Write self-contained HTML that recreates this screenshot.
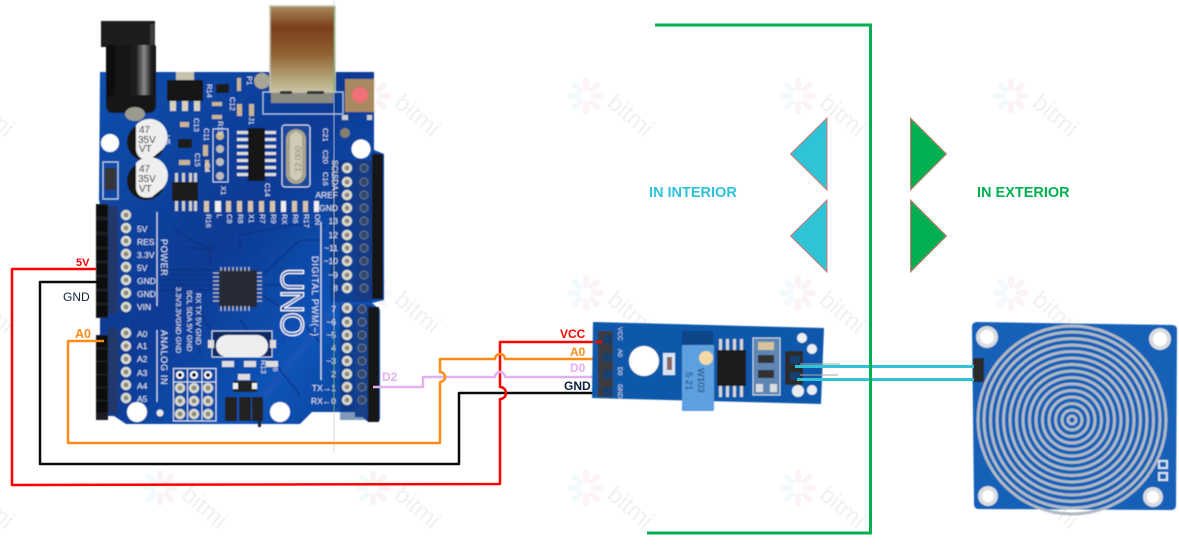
<!DOCTYPE html>
<html><head><meta charset="utf-8"><style>
html,body{margin:0;padding:0;background:#fff;width:1179px;height:547px;overflow:hidden}
svg{display:block}
text{font-family:"Liberation Sans",sans-serif}
</style></head><body>
<svg width="1179" height="547" viewBox="0 0 1179 547" xmlns="http://www.w3.org/2000/svg">
<defs>
<filter id="b" x="-5%" y="-5%" width="110%" height="110%"><feGaussianBlur stdDeviation="0.45"/></filter>
<linearGradient id="bd" x1="0" y1="0" x2="1" y2="1"><stop offset="0" stop-color="#1250ae"/><stop offset=".45" stop-color="#0b3a94"/><stop offset=".75" stop-color="#1254b6"/><stop offset="1" stop-color="#0a4096"/></linearGradient>
<linearGradient id="usb" x1="0" y1="0" x2="0" y2="1"><stop offset="0" stop-color="#a98a5f"/><stop offset=".25" stop-color="#7c3e1c"/><stop offset=".55" stop-color="#8f6132"/><stop offset=".85" stop-color="#b5a67a"/><stop offset="1" stop-color="#c9c3a5"/></linearGradient>
<linearGradient id="jk" x1="0" y1="0" x2="1" y2="0"><stop offset="0" stop-color="#0d0d0d"/><stop offset=".6" stop-color="#1c1c1c"/><stop offset=".76" stop-color="#8a8a8a"/><stop offset=".9" stop-color="#222"/><stop offset="1" stop-color="#111"/></linearGradient>
<g id="wm"><g fill="none" stroke-width="6" stroke-linecap="round"><path d="M0-15V-8M11-11L6-6M15 0H8" stroke="#fcf3f5"/><path d="M11 11L6 6M0 15V8" stroke="#fcf3f5"/><path d="M-11 11L-6 6M-15 0H-8M-11-11L-6-6" stroke="#f3fafd"/></g>
<text transform="translate(20,9) rotate(40)" font-size="24" fill="#f1f1f1">bitmi</text></g>
<g id="p"><circle r="5.2" fill="#d9d9cf"/><circle r="2.4" fill="#8b8b78"/></g>
<g id="hc"><rect x="-5.500" y="-5.500" width="11" height="11" fill="#0b0b0b"/></g>
</defs>

<!-- watermarks -->
<use href="#wm" x="-53" y="96"/><use href="#wm" x="160" y="96"/><use href="#wm" x="373" y="96"/><use href="#wm" x="586" y="96"/><use href="#wm" x="798" y="96"/><use href="#wm" x="1011" y="96"/>
<use href="#wm" x="-53" y="293"/><use href="#wm" x="160" y="293"/><use href="#wm" x="373" y="293"/><use href="#wm" x="586" y="293"/><use href="#wm" x="798" y="293"/><use href="#wm" x="1011" y="293"/>
<use href="#wm" x="-53" y="488"/><use href="#wm" x="160" y="488"/><use href="#wm" x="373" y="488"/><use href="#wm" x="586" y="488"/><use href="#wm" x="798" y="488"/><use href="#wm" x="1011" y="488"/>

<!-- Arduino -->
<g filter="url(#b)">
<path d="M100 72H374V150L384 154V300L372 303L380 310V420L368 422L358 412H312L300 424H126L114 416L100 416V205L99 200Z" fill="url(#bd)"/>
<g fill="none" stroke="#082f7e" stroke-width="1.1"><path d="M175 230L210 250V265M180 248H215M160 270H215M160 275H215M160 280H215M160 285H215M160 290H215M262 275L300 240H322M262 285H285M262 295L300 320L322 345M240 250V235L290 225H325M240 320L300 395M200 310L210 330M195 305L200 355M185 215L175 200"/></g>
<path d="M330 160H372V302H330ZM340 305H372V420H340Z" fill="#0a2f78" opacity=".5"/>
<path d="M100 322Q112 313 125 318L108 330L100 332Z" fill="#0b3a92"/>
<!-- USB -->
<rect x="263" y="92" width="80" height="22" fill="none" stroke="#a8c4ea" stroke-width="1.2"/>
<rect x="271" y="91" width="62" height="12" fill="#8c8c82"/>
<rect x="270" y="6" width="65" height="86" fill="url(#usb)" stroke="#c5c2ad" stroke-width="1.5"/>
<rect x="280" y="91" width="12" height="3" fill="#333"/><rect x="307" y="91" width="17" height="3" fill="#333"/>
<circle cx="262" cy="81" r="8" fill="#a9a594"/>
<!-- Jack -->
<rect x="101" y="21" width="54" height="26" fill="#1b1b1b"/><rect x="150" y="24" width="5" height="24" fill="#3a3a3a"/>
<rect x="106" y="45" width="50" height="62" rx="2" fill="url(#jk)"/>
<rect x="106" y="95" width="50" height="18" rx="7" fill="#181818"/>
<ellipse cx="135" cy="114" rx="10" ry="7" fill="#9a9a8f"/>
<!-- regulator -->
<rect x="176" y="72" width="18" height="10" fill="#c8c0ae"/><rect x="167" y="80" width="36" height="21" fill="#161616"/>
<rect x="170" y="101" width="6" height="10" fill="#d6d0bf"/><rect x="182" y="101" width="6" height="10" fill="#d6d0bf"/><rect x="194" y="101" width="6" height="10" fill="#d6d0bf"/>
<!-- small SMDs -->
<rect x="216" y="84" width="13" height="9" fill="#1a1a1a"/><rect x="237" y="78" width="4" height="13" fill="#c9b596"/><rect x="237" y="104" width="5" height="12" fill="#c9b596"/><rect x="249" y="104" width="5" height="12" fill="#c9b596"/><rect x="212" y="102" width="10" height="4" fill="#c9b596"/><rect x="212" y="115" width="10" height="4" fill="#c9b596"/>
<rect x="178" y="139" width="14" height="9" fill="#1b1b1b"/><rect x="180" y="122" width="9" height="5" fill="#c9b596"/><rect x="179" y="160" width="11" height="5" fill="#c9b596"/><rect x="203" y="145" width="5" height="11" fill="#c9b596"/><rect x="205" y="160" width="4" height="11" fill="#c9b596"/>
<!-- caps -->
<circle cx="146" cy="142" r="19" fill="#181818"/><path d="M136 125A18 18 0 0 1 163 149L152 158Q138 162 136 150Z" fill="#eee"/>
<circle cx="146" cy="181" r="19" fill="#181818"/><path d="M136 163A18 18 0 0 1 163 188L152 197Q138 200 136 189Z" fill="#eee"/>
<g font-size="10" fill="#111"><text x="139" y="133">47</text><text x="138" y="143">35V</text><text x="139" y="152">VT</text><text x="139" y="172">47</text><text x="138" y="182">35V</text><text x="139" y="192">VT</text></g>
<rect x="103" y="162" width="15" height="37" fill="none" stroke="#b7cdea" stroke-width="1.2"/><rect x="105" y="168" width="11" height="22" fill="#353535"/>
<circle cx="110" cy="143" r="9" fill="#fff"/><circle cx="361" cy="149" r="9.5" fill="#fff"/><circle cx="345" cy="133" r="5" fill="#857f6c"/>
<circle cx="137" cy="412" r="10" fill="#fff"/><circle cx="280" cy="412" r="10" fill="#fff"/><circle cx="160" cy="413" r="3.5" fill="#e8e8e8"/>
<!-- reset -->
<rect x="345" y="79" width="29" height="33" fill="#a98a60"/><circle cx="360" cy="95" r="8" fill="#ef7076"/><rect x="342" y="115" width="6" height="5" fill="#ccc"/><rect x="367" y="115" width="5" height="5" fill="#ccc"/>
<!-- X1 header -->
<rect x="213" y="129" width="15" height="53" fill="none" stroke="#c1d4ee" stroke-width="1"/>
<circle cx="220" cy="136" r="4" fill="#c4b98c"/><circle cx="220" cy="149" r="4" fill="#bbb"/><circle cx="220" cy="162" r="4" fill="#bbb"/><circle cx="220" cy="176" r="4" fill="#bbb"/>
<!-- IC top -->
<rect x="248" y="128" width="17" height="53" fill="#141414"/>
<g fill="#ddd"><rect x="237" y="131" width="11" height="3"/><rect x="237" y="138" width="11" height="3"/><rect x="237" y="145" width="11" height="3"/><rect x="237" y="152" width="11" height="3"/><rect x="237" y="159" width="11" height="3"/><rect x="237" y="166" width="11" height="3"/><rect x="237" y="173" width="11" height="3"/><rect x="265" y="131" width="11" height="3"/><rect x="265" y="138" width="11" height="3"/><rect x="265" y="145" width="11" height="3"/><rect x="265" y="152" width="11" height="3"/><rect x="265" y="159" width="11" height="3"/><rect x="265" y="166" width="11" height="3"/><rect x="265" y="173" width="11" height="3"/></g>
<!-- crystal top -->
<rect x="282" y="125" width="28" height="62" rx="3" fill="#1d4a9c" stroke="#d3dff0" stroke-width="1"/>
<rect x="286" y="129" width="20" height="55" rx="10" fill="#a9a48e"/><rect x="290" y="132" width="12" height="48" rx="6" fill="#cfcbb7"/>
<text transform="translate(301,172) rotate(-90)" font-size="8.5" fill="#85826e">12.000</text>
<!-- small IC -->
<rect x="172" y="182" width="26" height="19" fill="#1b1b1b"/>
<g fill="#ccc"><rect x="175" y="173" width="3" height="9"/><rect x="182" y="173" width="3" height="9"/><rect x="189" y="173" width="3" height="9"/><rect x="194" y="173" width="3" height="9"/><rect x="175" y="201" width="3" height="10"/><rect x="182" y="201" width="3" height="10"/><rect x="189" y="201" width="3" height="10"/><rect x="194" y="201" width="3" height="10"/></g>
<!-- SMD row -->
<g fill="#d4c5aa"><rect x="204" y="201" width="5" height="11"/><rect x="215" y="201" width="6" height="11" fill="#eee"/><rect x="226" y="201" width="5" height="11"/><rect x="237" y="201" width="5" height="11"/><rect x="248" y="201" width="5" height="11"/><rect x="259" y="201" width="5" height="11"/><rect x="281" y="201" width="5" height="11" fill="#eee"/><rect x="292" y="201" width="5" height="11"/><rect x="303" y="201" width="5" height="11"/><rect x="314" y="201" width="5" height="11" fill="#eee"/><rect x="270" y="201" width="5" height="11"/></g>
<g font-size="7.5" fill="#dfe8f6">
<text transform="translate(206,214) rotate(90)">R16</text><text transform="translate(217,214) rotate(90)">L</text><text transform="translate(227,214) rotate(90)">C8</text><text transform="translate(238,214) rotate(90)">R8</text><text transform="translate(249,214) rotate(90)">X1</text><text transform="translate(260,214) rotate(90)">R7</text><text transform="translate(271,214) rotate(90)">R9</text><text transform="translate(282,214) rotate(90)">RX</text><text transform="translate(293,214) rotate(90)">R6</text><text transform="translate(304,214) rotate(90)">R17</text><text transform="translate(315,214) rotate(90)">ON</text>
<text transform="translate(194,118) rotate(90)">C13</text><text transform="translate(204,128) rotate(90)">C11</text><text transform="translate(195,153) rotate(90)">C15</text><text transform="translate(205,163) rotate(90)">C4</text><text transform="translate(165,135) rotate(90)">U5</text><text transform="translate(323,128) rotate(90)">C21</text><text transform="translate(323,150) rotate(90)">C20</text><text transform="translate(323,172) rotate(90)">C16</text><text transform="translate(247,76) rotate(90)">P1</text><text transform="translate(230,97) rotate(90)">C12</text><text transform="translate(207,84) rotate(90)">R14</text><text transform="translate(249,117) rotate(90)">J1</text><text transform="translate(218,121) rotate(90)">R15</text><text transform="translate(265,183) rotate(90)">C14</text><text transform="translate(221,186) rotate(90)">X1</text><text transform="translate(261,360) rotate(90)">R13</text><text transform="translate(273,362) rotate(90)">C6</text>
</g>
<!-- Left header -->
<rect x="96" y="204" width="12" height="114" fill="#1a1a22"/><rect x="108" y="206" width="10" height="108" fill="#21386a"/>
<rect x="96" y="335" width="12" height="85" fill="#1a1a22"/><rect x="108" y="328" width="10" height="86" fill="#21386a"/>
<use href="#hc" x="102" y="211"/><use href="#hc" x="102" y="226"/><use href="#hc" x="102" y="241"/><use href="#hc" x="102" y="255"/><use href="#hc" x="102" y="269"/><use href="#hc" x="102" y="283"/><use href="#hc" x="102" y="297"/><use href="#hc" x="102" y="311"/>
<use href="#hc" x="102" y="342"/><use href="#hc" x="102" y="355"/><use href="#hc" x="102" y="368"/><use href="#hc" x="102" y="381"/><use href="#hc" x="102" y="394"/><use href="#hc" x="102" y="407"/>
<!-- Left pins -->
<use href="#p" x="126" y="215"/><use href="#p" x="126" y="228"/><use href="#p" x="126" y="241"/><use href="#p" x="126" y="254"/><use href="#p" x="126" y="267"/><use href="#p" x="126" y="280"/><use href="#p" x="126" y="293"/><use href="#p" x="126" y="307"/>
<use href="#p" x="126" y="333"/><use href="#p" x="126" y="346"/><use href="#p" x="126" y="359"/><use href="#p" x="126" y="372"/><use href="#p" x="126" y="385"/><use href="#p" x="126" y="398"/>
<g font-size="8.5" fill="#e1e9f6"><text x="137" y="232">5V</text><text x="137" y="245">RES</text><text x="137" y="258">3.3V</text><text x="137" y="271">5V</text><text x="137" y="284">GND</text><text x="137" y="297">GND</text><text x="137" y="310">VIN</text><text x="137" y="337">A0</text><text x="137" y="349">A1</text><text x="137" y="362">A2</text><text x="137" y="376">A3</text><text x="137" y="389">A4</text><text x="137" y="402">A5</text></g>
<path d="M157 212V306M157 330V402" stroke="#c7d7ef" stroke-width="1.2" fill="none"/>
<g font-size="9" fill="#dfe8f6"><text transform="translate(161,239) rotate(90)" letter-spacing=".7">POWER</text><text transform="translate(161,330) rotate(90)" letter-spacing=".7">ANALOG IN</text></g>
<g font-size="7.5" fill="#dfe8f6"><text transform="translate(176,287) rotate(90)">3.3V3.3VGND GND</text><text transform="translate(187,290) rotate(90)">SCL  SDA  5V  GND</text><text transform="translate(196,293) rotate(90)">RX   TX   5V   GND</text></g>
<!-- ICSP grid -->
<path d="M173.500 368.500H216V421H173.500ZM187.500 368.500V421M202 368.500V421M173.500 382H216" fill="none" stroke="#d4e0f2" stroke-width="1"/>
<circle cx="180" cy="375" r="4" fill="#fff"/><circle cx="180" cy="375" r="2" fill="#111"/><circle cx="194" cy="375" r="4" fill="#fff"/><circle cx="194" cy="375" r="2" fill="#111"/><circle cx="208" cy="375" r="4" fill="#fff"/><circle cx="208" cy="375" r="2" fill="#111"/>
<use href="#p" x="180" y="388"/><use href="#p" x="194" y="388"/><use href="#p" x="208" y="388"/><use href="#p" x="180" y="401"/><use href="#p" x="194" y="401"/><use href="#p" x="208" y="401"/><use href="#p" x="180" y="414"/><use href="#p" x="194" y="414"/><use href="#p" x="208" y="414"/>
<!-- ATmega -->
<rect x="219" y="270" width="38" height="37" fill="#262b35"/>
<g stroke="#b9bcc2" stroke-width="1.3"><path d="M221 267V271M225 267V271M229 267V271M233 267V271M237 267V271M241 267V271M245 267V271M249 267V271M221 306V311M225 306V311M229 306V311M233 306V311M237 306V311M241 306V311M245 306V311M249 306V311M213 273H219M213 277H219M213 281H219M213 285H219M213 289H219M213 293H219M213 297H219M213 301H219M257 273H262M257 277H262M257 281H262M257 285H262M257 289H262M257 293H262M257 297H262M257 301H262"/></g>
<!-- crystal 2 -->
<rect x="212" y="331" width="60" height="26" fill="#0e2a66" stroke="#c7d7ef" stroke-width="1"/>
<rect x="208" y="340" width="6" height="8" fill="#ddd"/><rect x="270" y="340" width="6" height="8" fill="#ddd"/>
<rect x="216" y="335" width="52" height="22" rx="11" fill="#eee"/>
<g fill="#ddd"><rect x="222" y="361" width="12" height="6"/><rect x="244" y="361" width="12" height="6"/><rect x="266" y="361" width="12" height="6"/><rect x="238" y="374" width="12" height="6"/></g>
<!-- ICSP -->
<rect x="233" y="381" width="24" height="11" fill="#222"/><rect x="233" y="383" width="5" height="6" fill="#eee"/><rect x="252" y="383" width="5" height="6" fill="#eee"/>
<g fill="#222"><rect x="225" y="397" width="12" height="24" rx="1"/><rect x="239" y="397" width="12" height="24" rx="1"/><rect x="252" y="397" width="11" height="24" rx="1"/><rect x="258" y="420" width="3" height="7"/></g>
<!-- UNO -->
<text transform="translate(281,268) rotate(90)" font-size="32" fill="none" stroke="#fff" stroke-width="1.2" letter-spacing="-1">UNO</text>
<g font-size="9" fill="#dfe8f6"><text transform="translate(312,256) rotate(90)" letter-spacing=".8">DIGITAL PWM(~)</text></g>
<path d="M321 222V380" stroke="#d5e1f3" stroke-width="1.2"/>
<!-- Right header -->
<rect x="372" y="154" width="11" height="145" fill="#121217"/><rect x="355" y="160" width="17" height="140" fill="#143a84"/>
<rect x="368" y="307" width="11" height="115" fill="#121217"/><rect x="355" y="307" width="13" height="110" fill="#19418a"/>
<g fill="#33466e" stroke="#6a7a8a" stroke-width="1"><circle cx="364" cy="168" r="4"/><circle cx="364" cy="182" r="4"/><circle cx="364" cy="195" r="4"/><circle cx="364" cy="208" r="4"/><circle cx="364" cy="221" r="4"/><circle cx="364" cy="235" r="4"/><circle cx="364" cy="248" r="4"/><circle cx="364" cy="261" r="4"/><circle cx="364" cy="275" r="4"/><circle cx="364" cy="288" r="4"/><circle cx="362" cy="309" r="4"/><circle cx="362" cy="322" r="4"/><circle cx="362" cy="335" r="4"/><circle cx="362" cy="348" r="4"/><circle cx="362" cy="361" r="4"/><circle cx="362" cy="374" r="4"/><circle cx="362" cy="387" r="4"/><circle cx="362" cy="400" r="4"/></g>
<use href="#p" x="347" y="168"/><use href="#p" x="347" y="182"/><use href="#p" x="347" y="195"/><use href="#p" x="347" y="208"/><use href="#p" x="347" y="221"/><use href="#p" x="347" y="235"/><use href="#p" x="347" y="248"/><use href="#p" x="347" y="261"/><use href="#p" x="347" y="275"/><use href="#p" x="347" y="288"/>
<use href="#p" x="347" y="308"/><use href="#p" x="347" y="322"/><use href="#p" x="347" y="335"/><use href="#p" x="347" y="348"/><use href="#p" x="347" y="361"/><use href="#p" x="347" y="374"/><use href="#p" x="347" y="387"/><use href="#p" x="347" y="400"/>
<g font-size="8.5" fill="#e1e9f6" text-anchor="end"><text x="338" y="211">GND</text><text x="338" y="224">13</text><text x="338" y="238">12</text><text x="338" y="251">~11</text><text x="338" y="264">~10</text><text x="338" y="278">~9</text><text x="338" y="291">8</text><text x="336" y="312">7</text><text x="336" y="325">~6</text><text x="336" y="338">~5</text><text x="336" y="351">4</text><text x="336" y="364">~3</text><text x="336" y="377">2</text><text x="336" y="391">TX→1</text><text x="336" y="404">RX←0</text><text x="338" y="198">AREF</text></g>
<g font-size="8" fill="#e1e9f6"><text transform="translate(332,160) rotate(90)">SCL</text><text transform="translate(332,174) rotate(90)">SDA</text></g>
</g>
<path d="M334 0V452" stroke="#cfcfcf" stroke-width="1" opacity=".8"/>
<path d="M334 92V7M334 330V412" stroke="#5fa55f" stroke-width="1" opacity=".8"/>

<!-- Wires -->
<g fill="none" stroke-width="2.500" stroke-linejoin="round">
<path d="M98 282H40V464H459V393H597" stroke="#0a0a0a"/>
<path d="M96 269H12V485L500 484V399A6 6 0 0 0 500 387V342H602" stroke="#ff0000"/>
<path d="M373 387H423V377H495A5 5 0 0 1 505 377H600" stroke="#e3b0ee"/>
<path d="M104 341H68V443H440V382A5 5 0 0 0 440 372V359H495A5 5 0 0 1 505 359H600" stroke="#ff8c1a"/>
</g>

<!-- Wall -->
<path d="M655 25H872M870.500 25V533H647" fill="none" stroke="#00b050" stroke-width="3"/>
<g stroke="#d7786f" stroke-width="1"><polygon points="827,118 790.500,154 827,190" fill="#2fc3d8"/><polygon points="827,200 790.500,236 827,272" fill="#2fc3d8"/><polygon points="910.500,118 946.500,154 910.500,190" fill="#00b050"/><polygon points="910.500,200 946.500,236 910.500,272" fill="#00b050"/></g>
<text x="649" y="197" font-size="14.500" font-weight="bold" fill="#2fc3d8">IN INTERIOR</text>
<text x="977" y="197" font-size="14.500" font-weight="bold" fill="#00b050">IN EXTERIOR</text>

<!-- Sensor module -->
<g filter="url(#b)">
<polygon points="593,322 824,328 821,404 592,398" fill="#0f58aa"/>
<rect x="598" y="331" width="15" height="66" rx="1" fill="#3a3a40"/>
<rect x="603" y="335" width="9" height="9" fill="#15406e"/><rect x="603" y="353" width="9" height="9" fill="#15406e"/><rect x="603" y="370" width="9" height="9" fill="#15406e"/><rect x="603" y="387" width="9" height="9" fill="#15406e"/>
<g font-size="6.500" fill="#cfe0f2"><text transform="translate(618,327) rotate(90)">VCC</text><text transform="translate(618,349) rotate(90)">A0</text><text transform="translate(618,367) rotate(90)">D0</text><text transform="translate(618,384) rotate(90)">GND</text></g>
<circle cx="644" cy="361" r="15" fill="#fff"/>
<rect x="663" y="353" width="12" height="22" fill="#d7e6f5"/><rect x="667" y="357" width="5" height="13" fill="#866"/>
<rect x="682" y="331" width="31" height="14" fill="#0c4488"/>
<rect x="682" y="345" width="32" height="66" rx="1" fill="#5ba0df"/>
<circle cx="706" cy="358" r="7" fill="#f4d9a4"/>
<g font-size="9.500" fill="#123a70"><text transform="translate(698,368) rotate(90)">W103</text><text transform="translate(686,372) rotate(90)">5 21</text></g>
<rect x="717" y="350" width="29" height="36" fill="#1a1a1a"/>
<g fill="#d5d5d5"><rect x="719" y="339" width="3" height="11"/><rect x="726" y="339" width="3" height="11"/><rect x="733" y="339" width="3" height="11"/><rect x="740" y="339" width="3" height="11"/><rect x="719" y="386" width="3" height="11"/><rect x="726" y="386" width="3" height="11"/><rect x="733" y="386" width="3" height="11"/><rect x="740" y="386" width="3" height="11"/></g>
<rect x="753" y="338" width="27" height="57" fill="#5d86b4" stroke="#c5d8ea"/>
<rect x="758" y="342" width="16" height="8" fill="#d7c39a"/><rect x="758" y="355" width="16" height="8" fill="#333"/><rect x="758" y="370" width="16" height="8" fill="#333"/><rect x="756" y="384" width="7" height="8" fill="#ddd"/><rect x="770" y="384" width="7" height="8" fill="#ddd"/>
<circle cx="802" cy="338" r="5" fill="#e9eef3"/><circle cx="812" cy="349" r="5" fill="#e9eef3"/><circle cx="812" cy="390" r="5" fill="#e9eef3"/><circle cx="798" cy="391" r="6" fill="#e9eef3"/>
<rect x="785" y="351" width="18" height="34" rx="2" fill="#2b2b2b"/>
<rect x="790" y="356" width="10" height="8" fill="#15406e"/><rect x="790" y="372" width="10" height="8" fill="#15406e"/>
</g>
<!-- module wires -->
<path d="M595 342H602" stroke="#f00" stroke-width="2.500"/>
<path d="M800 364H840M800 375H838" stroke="#aaa" stroke-width="1" fill="none"/>
<path d="M795 366.500H975M797 379.500H975" stroke="#2fc3d8" stroke-width="3" fill="none"/>
<path d="M870.500 360V386" stroke="#00b050" stroke-width="3"/>

<!-- Touch sensor -->
<g filter="url(#b)">
<path d="M977 322L1172 325Q1177 325 1177 330L1176 505Q1176 510 1171 510L979 509Q974 509 974 504L972 327Q972 322 977 322Z" fill="#1560b8"/>
<g fill="none" stroke="#aeb9c4" stroke-width="3"><circle cx="1072" cy="420" r="94"/><circle cx="1072" cy="420" r="88"/><circle cx="1072" cy="420" r="81.500"/><circle cx="1072" cy="420" r="75"/><circle cx="1072" cy="420" r="68.500"/><circle cx="1072" cy="420" r="62"/><circle cx="1072" cy="420" r="55.500"/><circle cx="1072" cy="420" r="49"/><circle cx="1072" cy="420" r="42.500"/><circle cx="1072" cy="420" r="36"/><circle cx="1072" cy="420" r="29.500"/><circle cx="1072" cy="420" r="23"/><circle cx="1072" cy="420" r="16.500"/><circle cx="1072" cy="420" r="10"/><circle cx="1072" cy="420" r="4"/></g>
<circle cx="987" cy="337" r="11" fill="#d9dde1"/><circle cx="987" cy="337" r="7" fill="#fff"/>
<circle cx="1160" cy="339" r="11" fill="#d9dde1"/><circle cx="1160" cy="339" r="7" fill="#fff"/>
<circle cx="988" cy="496" r="10" fill="#d9dde1"/><circle cx="988" cy="496" r="6" fill="#fff"/>
<circle cx="1153" cy="497" r="10" fill="#d9dde1"/><circle cx="1153" cy="497" r="6" fill="#fff"/>
<rect x="1158" y="460" width="10" height="9" fill="#d5e1ee"/><rect x="1158" y="472" width="10" height="9" fill="#d5e1ee"/>
<rect x="1160" y="462" width="6" height="5" fill="#1560b8"/><rect x="1160" y="474" width="6" height="5" fill="#1560b8"/>
<rect x="973" y="358" width="11" height="24" fill="#2b2b2b"/>
</g>
<path d="M950 366.500H974M950 379.500H974" stroke="#2fc3d8" stroke-width="3"/>

<!-- Labels -->
<text x="76" y="266" font-size="11" font-weight="bold" fill="#ff0000">5V</text>
<text x="63" y="301" font-size="12" fill="#0f1f3d">GND</text>
<text x="75" y="338" font-size="12.500" font-weight="bold" fill="#ff8c1a">A0</text>
<text x="382" y="381" font-size="12" font-weight="bold" fill="#e3b0ee">D2</text>
<text x="560" y="338" font-size="12" font-weight="bold" fill="#ff0000">VCC</text>
<text x="570" y="356" font-size="12" font-weight="bold" fill="#ff8c1a">A0</text>
<text x="570" y="372" font-size="12" font-weight="bold" fill="#e3b0ee">D0</text>
<text x="564" y="390" font-size="12" font-weight="bold" fill="#0f1f3d">GND</text>
</svg>
</body></html>
